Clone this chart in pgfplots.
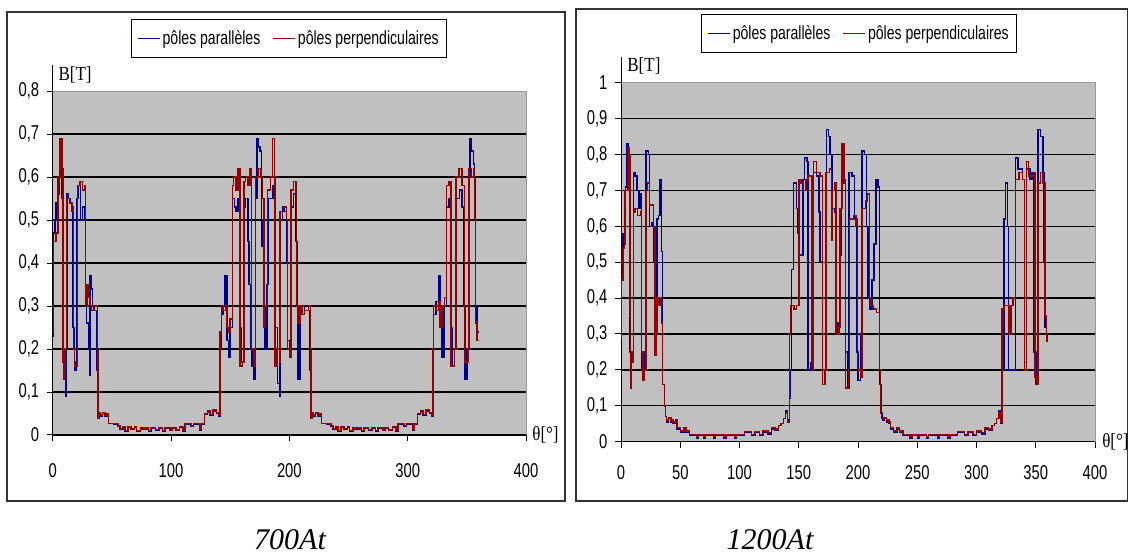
\documentclass[border=0pt]{standalone}
\usepackage{pgfplots}
\pgfplotsset{compat=1.18}
\usepackage{fontspec}
\setmainfont{Liberation Serif}
\newfontfamily\narrowsans[FakeStretch=0.74]{Liberation Sans}
\newfontfamily\narrowserif[FakeStretch=0.85]{Liberation Serif}
\definecolor{bgray}{RGB}{192,192,192}
\definecolor{bordergray}{RGB}{150,150,150}
\definecolor{sblue}{RGB}{0,0,140}
\definecolor{sred}{RGB}{150,0,0}
\pgfplotsset{
  bchart/.style={
    scale only axis,
    anchor=south west,
    clip=false,
    xmin=0, xmax=400,
    axis x line*=bottom, axis y line*=left,
    x axis line style={-, line width=1pt},
    y axis line style={-, line width=1pt, shorten >=-26pt},
    axis background/.style={fill=bgray, draw=bordergray},
    tick align=outside,
    major tick length=6pt,
    tick style={black, line width=1pt},
    ymajorgrids,
    major grid style={black, line width=1.3pt},
    extra y tick style={grid=none},
    ticklabel style={font=\narrowsans\fontsize{20}{24}\selectfont},
    yticklabel style={xshift=-4pt},
    /pgf/number format/assume math mode=true,
    /pgf/number format/use comma,
    /pgf/number format/fixed,
    legend columns=2,
    legend style={draw=black, line width=0.8pt, font=\narrowsans\fontsize{19}{22}\selectfont, anchor=center,
      inner xsep=6pt, inner ysep=9pt,
      /tikz/every even column/.append style={column sep=10pt}},
    legend image code/.code={\draw[line width=1.6pt] (0pt,0pt) -- (22pt,0pt);},
  },
  sb/.style={color=sblue, line width=1.5pt, const plot, mark=none},
  sr/.style={color=sred, line width=1.5pt, const plot, mark=none},
}
\begin{document}
\begin{tikzpicture}
\path[use as bounding box] (0,0) rectangle (1129pt,554pt);
\draw[line width=1.3pt, black!80] (7pt,53pt) rectangle (565pt,542pt);
\draw[line width=1.3pt, black!80] (576pt,53pt) rectangle (1127.5pt,545pt);
% ---------------- 700At ----------------
\begin{axis}[bchart, at={(52.7pt,119pt)}, width=473.3pt, height=344pt,
  ymin=0, ymax=0.8, ytick={0,0.1,...,0.71}, extra y ticks={0.8},
  xtick={0,100,...,400}, xticklabel style={yshift=-19pt},
  legend style={at={(0.499,1.153)}}]
\addplot[sb] coordinates {
(0,0.23) (0.8,0.47) (2,0.50) (3,0.54) (4,0.56) (5.5,0.60) (6.8,0.62) (8,0.55) (8.6,0.20) (9.5,0.13) (10.7,0.09) (11.5,0.20) (12,0.56) (13,0.55) (14.5,0.54) (16.5,0.53) (17.3,0.25) (18.5,0.15) (19.5,0.17) (20.5,0.55) (22,0.58) (23.5,0.50) (25,0.53) (27,0.50) (27.6,0.32) (28.5,0.26) (30.2,0.20) (31,0.14) (31.6,0.37) (32.5,0.34) (33.5,0.30) (35,0.29) (37.5,0.15)
(38.3,0.04) (39,0.05) (40.5,0.044) (42,0.05) (44,0.043) (46,0.048) (47.3,0.027) (52,0.025) (55,0.02) (57,0.013) (59.5,0.018) (61,0.009) (63.5,0.018) (66,0.013) (69,0.018) (71,0.008) (74,0.014) (78,0.014) (81,0.008) (83,0.016) (87,0.011) (90,0.016) (93,0.008) (95,0.016) (99,0.01) (101,0.016) (104,0.01) (107,0.018) (110,0.009) (112,0.025) (117,0.02) (119,0.025) (124.5,0.012) (125.5,0.025) (128.5,0.048) (131,0.054) (133,0.046) (135.5,0.056) (138.5,0.05) (140.5,0.043)
(141.5,0.20) (142.5,0.28) (144,0.30) (145.5,0.37) (147.3,0.22) (148.5,0.18) (150,0.25) (151.8,0.55) (153.5,0.53) (155,0.52) (156.5,0.55) (158.3,0.25) (159.5,0.17) (161.5,0.53) (163,0.55) (165,0.45) (166,0.35) (167,0.20) (168.5,0.16) (170,0.13) (171.5,0.55) (172.5,0.69) (173.5,0.67) (175,0.66) (176.5,0.50) (177,0.44) (178,0.30) (179.5,0.20) (181,0.35) (182,0.55) (184.5,0.55) (186,0.58) (187.5,0.55) (188,0.25) (190,0.12) (191.5,0.09) (192.3,0.50) (194,0.53) (196,0.52) (197.5,0.40) (198.5,0.22) (200.5,0.18) (201.5,0.53) (203.5,0.56) (205.5,0.45) (206.5,0.30) (207.5,0.13) (209,0.28) (210.5,0.30) (213,0.29) (216,0.29) (217.5,0.15)
(218.3,0.04) (219,0.05) (220.5,0.044) (222,0.05) (224,0.043) (226,0.048) (227.3,0.027) (232,0.025) (235,0.02) (237,0.013) (239.5,0.018) (241,0.009) (243.5,0.018) (246,0.013) (249,0.018) (251,0.008) (254,0.014) (258,0.014) (261,0.008) (263,0.016) (267,0.011) (270,0.016) (273,0.008) (275,0.016) (279,0.01) (281,0.016) (284,0.01) (287,0.018) (290,0.009) (292,0.025) (297,0.02) (299,0.025) (304.5,0.012) (305.5,0.025) (308.5,0.048) (311,0.054) (313,0.046) (315.5,0.056) (318.5,0.05) (320.5,0.043)
(321.3,0.20) (322,0.28) (324,0.31) (326,0.37) (327.5,0.25) (329,0.18) (330.5,0.30) (332.8,0.53) (335,0.55) (336.5,0.25) (338,0.16) (339.5,0.20) (341,0.55) (344,0.57) (346,0.53) (347.5,0.30) (348.5,0.13) (350,0.20) (351.5,0.60) (352.5,0.69) (354,0.66) (355.5,0.63) (356.5,0.60) (357.5,0.30) (358.5,0.24) (360,0.24)
};
\addplot[sr] coordinates {
(0,0.24) (0.8,0.45) (3,0.47) (4.5,0.60) (6.3,0.69) (7.8,0.62) (8.6,0.17) (9.5,0.13) (10.5,0.20) (11.8,0.55) (14,0.54) (16.5,0.52) (17.4,0.20) (18.5,0.16) (20.8,0.58) (23,0.59) (25,0.57) (27,0.58) (27.8,0.30) (29,0.35) (30.2,0.32) (31.5,0.30) (33,0.29) (35.5,0.30) (37.8,0.20)
(38.3,0.04) (39,0.052) (40.5,0.046) (42,0.052) (44,0.045) (46,0.05) (47.3,0.027) (52,0.027) (55,0.022) (57,0.015) (59.5,0.02) (61,0.011) (63.5,0.02) (66,0.015) (69,0.02) (71,0.01) (74,0.016) (78,0.016) (81,0.01) (83,0.018) (87,0.013) (90,0.018) (93,0.01) (95,0.018) (99,0.012) (101,0.018) (104,0.012) (107,0.02) (110,0.011) (112,0.027) (117,0.022) (119,0.027) (124.5,0.014) (125.5,0.027) (128.5,0.05) (131,0.056) (133,0.048) (135.5,0.058) (138.5,0.052) (140.5,0.045)
(141.4,0.24) (142.5,0.30) (144,0.29) (146,0.30) (147.5,0.25) (148.5,0.24) (150,0.27) (151.8,0.58) (153,0.60) (155,0.57) (156.8,0.62) (158.3,0.16) (160.5,0.17) (161.5,0.59) (163,0.60) (165,0.58) (166.8,0.62) (168,0.20) (170,0.16) (171.5,0.60) (174,0.62) (176,0.60) (177.5,0.55) (178.5,0.25) (180,0.30) (181.5,0.57) (184,0.60) (185.8,0.69) (187.3,0.60) (188,0.16) (189.5,0.20) (191.5,0.17) (192.2,0.52) (195,0.53) (197.5,0.50) (198.5,0.20) (200.5,0.18) (201.5,0.57) (203.5,0.59) (205.5,0.56) (206.2,0.30) (207.5,0.26) (209,0.30) (210.5,0.28) (213,0.29) (216,0.30) (217.8,0.20)
(218.3,0.04) (219,0.052) (220.5,0.046) (222,0.052) (224,0.045) (226,0.05) (227.3,0.027) (232,0.027) (235,0.022) (237,0.015) (239.5,0.02) (241,0.011) (243.5,0.02) (246,0.015) (249,0.02) (251,0.01) (254,0.016) (258,0.016) (261,0.01) (263,0.018) (267,0.013) (270,0.018) (273,0.01) (275,0.018) (279,0.012) (281,0.018) (284,0.012) (287,0.02) (290,0.011) (292,0.027) (297,0.022) (299,0.027) (304.5,0.014) (305.5,0.027) (308.5,0.05) (311,0.056) (313,0.048) (315.5,0.058) (318.5,0.052) (320.5,0.045)
(321.3,0.20) (322,0.30) (324,0.29) (326,0.31) (327.5,0.25) (329,0.30) (331,0.32) (332.8,0.58) (335,0.59) (336.5,0.16) (339.5,0.20) (341,0.60) (343.5,0.62) (346,0.58) (348,0.17) (351,0.20) (352,0.62) (354,0.60) (355.5,0.62) (356.5,0.50) (357.5,0.26) (358.5,0.22) (360,0.22)
};
\legend{pôles parallèles, pôles perpendiculaires}
\node[font=\narrowserif\fontsize{20}{24}\selectfont, anchor=west] at (rel axis cs:0.005,1.047) {B[T]};
\node[font=\narrowserif\fontsize{20}{24}\selectfont, anchor=west] at (rel axis cs:1.006,0) {θ[°]};
\end{axis}
% ---------------- 1200At ----------------
\begin{axis}[bchart, at={(621pt,112.3pt)}, width=474pt, height=359pt,
  ymin=0, ymax=1, ytick={0,0.1,...,0.91}, extra y ticks={1},
  xtick={0,50,...,400}, xticklabel style={yshift=-14pt},
  legend style={at={(0.502,1.137)}}]
\addplot[sb] coordinates {
(0,0.33) (0.5,0.54) (1.5,0.58) (3,0.58) (4,0.71) (5.2,0.83) (6.5,0.80) (7.3,0.25) (8.5,0.22) (9.5,0.25) (10.5,0.75) (12,0.74) (13.5,0.70) (15,0.65) (16.5,0.69) (17.5,0.20) (18.5,0.17) (20,0.25) (21,0.81) (23,0.80) (24,0.60) (26,0.61) (27.5,0.50) (28.5,0.26) (29.5,0.40) (30.5,0.62) (31.5,0.63) (33,0.73) (34,0.53) (35,0.16) (36.5,0.10) (37.5,0.07)
(38.5,0.055) (40,0.065) (42,0.055) (44,0.05) (46,0.055) (47.3,0.035) (50,0.025) (53,0.035) (55,0.025) (58,0.017) (62,0.017) (64,0.01) (65.5,0.017) (70,0.01) (71.5,0.017) (78,0.01) (79.5,0.017) (87,0.01) (88.5,0.017) (96,0.01) (97.5,0.017) (104,0.025) (110,0.017) (113,0.025) (117,0.017) (120,0.027) (124,0.022) (127,0.036) (130,0.032) (133,0.045) (135,0.05) (137,0.065) (139,0.085) (140.5,0.06)
(142,0.12) (143,0.20) (144,0.48) (145.5,0.72) (148,0.65) (149,0.58) (150,0.52) (152,0.52) (153.5,0.73) (155,0.79) (157,0.78) (158,0.20) (160,0.22) (161,0.20) (162.5,0.75) (165,0.74) (167,0.64) (168,0.50) (170,0.16) (172,0.20) (173.5,0.87) (175,0.85) (176.5,0.80) (178,0.65) (180,0.64) (181,0.50) (181.5,0.30) (183,0.33) (184.5,0.52) (186,0.75) (188,0.73) (189.5,0.25) (191,0.15) (192.5,0.75) (195,0.74) (197,0.62) (199,0.25) (200,0.17) (202,0.30) (203.5,0.81) (205.5,0.80) (207,0.60) (208.5,0.40) (210,0.37) (212,0.45) (213.5,0.55) (215,0.73) (217,0.71) (218,0.16) (219.5,0.08)
(220.5,0.06) (222,0.065) (224,0.055) (226,0.05) (227.3,0.035) (230,0.025) (233,0.035) (235,0.025) (238,0.017) (242,0.017) (244,0.01) (245.5,0.017) (250,0.01) (251.5,0.017) (258,0.01) (259.5,0.017) (267,0.01) (268.5,0.017) (276,0.01) (277.5,0.017) (284,0.025) (290,0.017) (293,0.025) (297,0.017) (300,0.027) (304,0.022) (307,0.036) (310,0.032) (313,0.045) (315,0.05) (317,0.065) (319,0.085) (320.5,0.05)
(321.5,0.13) (322,0.20) (323,0.62) (324.5,0.72) (326,0.60) (327,0.20) (329,0.20) (331,0.20) (333,0.79) (335,0.76) (337,0.76) (339,0.73) (340.5,0.22) (342,0.76) (345,0.73) (347,0.75) (348.5,0.25) (350,0.16) (352,0.87) (354,0.85) (356,0.75) (357,0.50) (358,0.32) (359,0.29) (360,0.30)
};
\addplot[sr] coordinates {
(0,0.29) (0.5,0.45) (1.5,0.54) (3,0.55) (3.5,0.70) (5,0.70) (5.8,0.82) (7,0.80) (7.5,0.35) (8,0.15) (9,0.22) (10,0.25) (10.7,0.64) (12,0.65) (14,0.63) (16.5,0.64) (17.5,0.25) (18.5,0.17) (20,0.20) (21,0.70) (22.5,0.72) (24,0.66) (25.5,0.66) (27.5,0.60) (28.5,0.24) (30,0.30) (30.5,0.40) (31.5,0.38) (33,0.40) (34,0.33) (35,0.16) (36.5,0.10) (37.5,0.07)
(38.5,0.06) (40,0.068) (42,0.06) (44,0.055) (46,0.06) (47.3,0.04) (50,0.03) (53,0.04) (55,0.03) (58,0.02) (62,0.02) (64,0.013) (65.5,0.02) (70,0.013) (71.5,0.02) (78,0.013) (79.5,0.02) (87,0.013) (88.5,0.02) (96,0.013) (97.5,0.02) (104,0.028) (110,0.02) (113,0.028) (117,0.02) (120,0.03) (124,0.025) (127,0.04) (130,0.035) (133,0.045) (135,0.05) (137,0.065) (139,0.08) (140.5,0.055)
(142,0.30) (143,0.38) (146,0.37) (148,0.38) (150,0.73) (152,0.72) (154,0.70) (156,0.73) (158,0.74) (161,0.22) (162,0.20) (162.5,0.78) (165,0.75) (168,0.74) (170,0.16) (172,0.20) (173,0.75) (176,0.76) (177.5,0.56) (178.5,0.70) (180,0.72) (181.5,0.30) (184,0.32) (185,0.65) (186.5,0.83) (188,0.72) (189.5,0.15) (192,0.20) (193,0.62) (196,0.63) (198.5,0.60) (199.5,0.20) (202,0.18) (203.5,0.65) (206.5,0.67) (208,0.69) (209.5,0.40) (211,0.38) (213,0.37) (215.5,0.36) (218,0.20) (219,0.08)
(220,0.065) (222,0.068) (224,0.06) (226,0.055) (227.3,0.04) (230,0.03) (233,0.04) (235,0.03) (238,0.02) (242,0.02) (244,0.013) (245.5,0.02) (250,0.013) (251.5,0.02) (258,0.013) (259.5,0.02) (267,0.013) (268.5,0.02) (276,0.013) (277.5,0.02) (284,0.028) (290,0.02) (293,0.028) (297,0.02) (300,0.03) (304,0.025) (307,0.04) (310,0.035) (313,0.045) (315,0.05) (317,0.065) (319,0.08) (320.5,0.055)
(321.5,0.37) (323,0.38) (326,0.38) (327.5,0.30) (329,0.38) (331,0.40) (333,0.73) (336,0.75) (339,0.73) (340.5,0.20) (342,0.78) (344,0.74) (345.5,0.74) (348,0.75) (349.5,0.18) (351,0.16) (352,0.72) (354,0.75) (356,0.72) (357,0.72) (358,0.35) (359,0.28) (360,0.29)
};
\legend{pôles parallèles, pôles perpendiculaires}
\node[font=\narrowserif\fontsize{20}{24}\selectfont, anchor=west] at (rel axis cs:0.006,1.046) {B[T]};
\node[font=\narrowserif\fontsize{20}{24}\selectfont, anchor=west] at (rel axis cs:1.008,0) {θ[°]};
\end{axis}
\node[font=\itshape\fontsize{30}{34}\selectfont, anchor=base, inner sep=0pt, text depth=0pt] at (290pt,5pt) {700At};
\node[font=\itshape\fontsize{30}{34}\selectfont, anchor=base, inner sep=0pt, text depth=0pt] at (770pt,5pt) {1200At};
\end{tikzpicture}
\end{document}
